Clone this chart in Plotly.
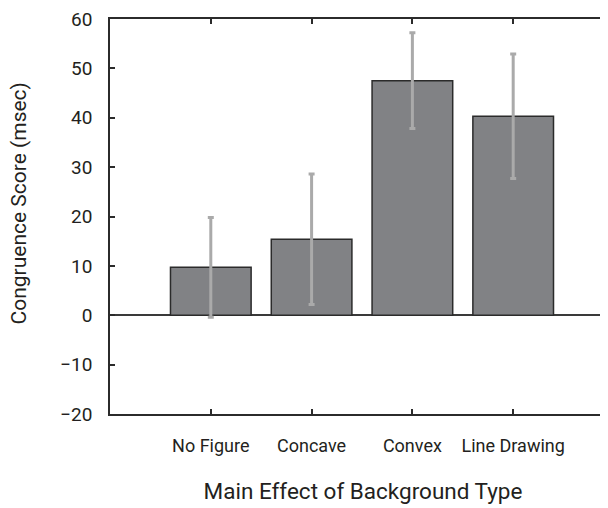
import plotly.graph_objects as go

categories = ["No Figure", "Concave", "Convex", "Line Drawing"]
means = [9.7, 15.4, 47.5, 40.3]
errors = [10.1, 13.2, 9.7, 12.6]
y_ticks = [-20, -10, 0, 10, 20, 30, 40, 50, 60]
y_tick_labels = ["\u221220", "\u221210", "0", "10", "20", "30", "40", "50", "60"]
y_title = "Congruence Score (msec)"
x_title = "Main Effect of Background Type"

fig = go.Figure()
fig.add_trace(go.Bar(
    x=list(range(len(categories))), y=means, width=0.8,
    marker=dict(color="#818285", line=dict(color="#2b2b2b", width=1.5)),
    error_y=dict(type="data", array=errors, visible=True, color="#aaaaaa", thickness=3, width=3),
))

font = "Roboto, sans-serif"
fig.update_layout(
    width=608, height=508,
    margin=dict(l=102, r=0, t=8, b=102),
    plot_bgcolor="white", paper_bgcolor="white",
    showlegend=False,
    font=dict(family=font, color="#231f20"),
    xaxis=dict(
        range=[-1, 4.02], tickmode="array", tickvals=list(range(len(categories))),
        ticktext=categories, ticks="inside", ticklen=5, tickcolor="#2b2b2b", tickwidth=1.5,
        showline=True, linecolor="#2b2b2b", linewidth=1.5, mirror="ticks",
        showgrid=False, zeroline=False, tickfont=dict(size=18), ticklabelstandoff=15,
        ticklabeloverflow="allow",
        title=dict(text=x_title, font=dict(size=22.5), standoff=28),
    ),
    yaxis=dict(
        range=[-20, 60], tickmode="array", tickvals=y_ticks, ticktext=y_tick_labels,
        ticks="inside", ticklen=5, tickcolor="#2b2b2b", tickwidth=1.5,
        showline=True, linecolor="#2b2b2b", linewidth=1.5,
        showgrid=False, zeroline=True, zerolinecolor="#3a3a3a", zerolinewidth=1.5,
        tickfont=dict(size=19), ticklabelstandoff=12, ticklabeloverflow="allow",
    ),
    annotations=[dict(
        text=y_title, textangle=-90, xref="paper", yref="paper", x=0, y=0.533,
        xanchor="center", yanchor="middle", xshift=-91, showarrow=False,
        font=dict(size=21, family=font, color="#231f20"),
    )],
)
fig.write_html("out.html")
